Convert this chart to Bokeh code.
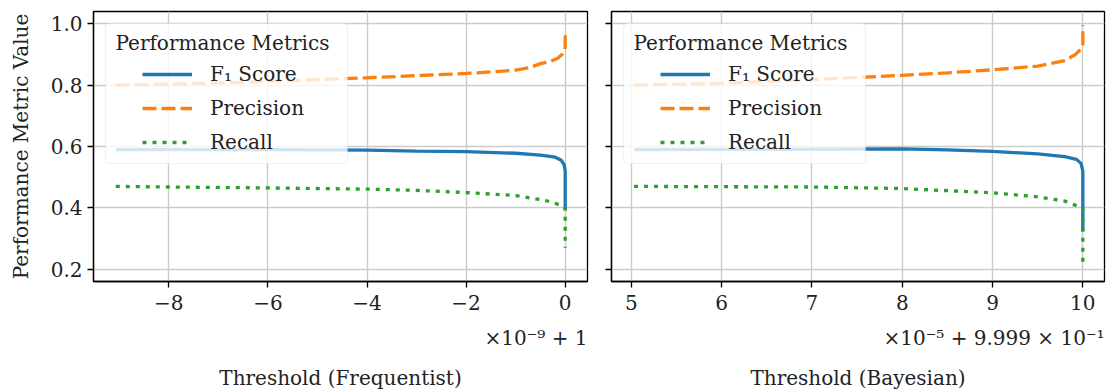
from bokeh.plotting import figure
from bokeh.layouts import row
from bokeh.models import (Range1d, FixedTicker, Title, Legend, LegendItem,
                          BoxAnnotation, Label, CustomLabelingPolicy)
from bokeh.embed import file_html
from bokeh.resources import INLINE

FONT = "DejaVu Serif"
FS = "20px"
TXT = "#222222"
C_F1, C_P, C_R = "#1f77b4", "#ff7f0e", "#2ca02c"

# ---------------- data ----------------
# Frequentist: threshold offsets in units of 1e-9 relative to 1
freq_p_x = [-9.07, -8, -7, -6, -5, -4, -3, -2, -1.5, -1, -0.7, -0.5, -0.3, -0.15, -0.05, -0.01, 0, 0]
freq_p_y = [0.800, 0.803, 0.807, 0.812, 0.818, 0.824, 0.831, 0.838, 0.843, 0.849, 0.858, 0.870, 0.877, 0.888, 0.902, 0.913, 0.925, 0.970]
freq_f_x = [-9.07, -6, -4, -3, -2, -1, -0.5, -0.2, -0.08, -0.02, 0, 0]
freq_f_y = [0.590, 0.590, 0.588, 0.585, 0.583, 0.578, 0.572, 0.565, 0.555, 0.540, 0.520, 0.394]
freq_r_x = [-9.07, -8, -6, -4, -3, -2, -1, -0.7, -0.4, -0.2, -0.05, 0, 0]
freq_r_y = [0.470, 0.468, 0.465, 0.461, 0.457, 0.450, 0.440, 0.432, 0.424, 0.415, 0.405, 0.398, 0.270]

# Bayesian: threshold offsets in units of 1e-5 relative to 0.9999
bay_p_x = [5.03, 6, 7, 8, 8.5, 9, 9.5, 9.8, 9.92, 9.98, 10, 10]
bay_p_y = [0.800, 0.806, 0.818, 0.832, 0.840, 0.850, 0.862, 0.880, 0.900, 0.918, 0.930, 0.995]
bay_f_x = [5.03, 7, 8, 8.5, 9, 9.5, 9.8, 9.93, 9.98, 10, 10]
bay_f_y = [0.590, 0.591, 0.592, 0.589, 0.584, 0.576, 0.567, 0.558, 0.545, 0.520, 0.325]
bay_r_x = [5.03, 6, 7, 8, 8.5, 9, 9.5, 9.8, 9.95, 10, 10]
bay_r_y = [0.470, 0.469, 0.468, 0.463, 0.456, 0.449, 0.436, 0.422, 0.405, 0.398, 0.205]

y_ticks = [0.2, 0.4, 0.6, 0.8, 1.0]
y_tick_labels = ["0.2", "0.4", "0.6", "0.8", "1.0"]
freq_ticks = [-8, -6, -4, -2, 0]
freq_tick_labels = ["\u22128", "\u22126", "\u22124", "\u22122", "0"]
bay_ticks = [5, 6, 7, 8, 9, 10]
bay_tick_labels = ["5", "6", "7", "8", "9", "10"]

series_labels = ["F\u2081 Score", "Precision", "Recall"]
legend_title = "Performance Metrics"
y_label = "Performance Metric Value"
freq_xlabel = "Threshold (Frequentist)"
bay_xlabel = "Threshold (Bayesian)"
freq_offset = "\u00d710\u207b\u2079 + 1"
bay_offset = "\u00d710\u207b\u2075 + 9.999 \u00d7 10\u207b\u00b9"

yr = Range1d(0.16, 1.04)
FRAME_H = 271


def panel(width, xr, ticks, tick_labels, px, py, fx, fy, rx, ry, xlabel, offset, left, border_left, border_right):
    p = figure(width=width, height=392, x_range=xr, y_range=yr,
               output_backend="svg", toolbar_location=None,
               min_border_left=border_left, min_border_right=border_right,
               min_border_top=11, min_border_bottom=20)
    p.background_fill_color = "white"
    p.border_fill_color = "white"
    p.outline_line_color = "black"
    p.outline_line_width = 1.3
    p.outline_line_alpha = 1.0

    p.grid.grid_line_color = "#cccccc"
    p.grid.grid_line_width = 1.4
    p.xaxis.ticker = FixedTicker(ticks=ticks)
    p.xaxis.major_label_overrides = {t: l for t, l in zip(ticks, tick_labels)}
    p.yaxis.ticker = FixedTicker(ticks=y_ticks)
    for ax in (p.xaxis[0], p.yaxis[0]):
        ax.axis_line_color = "black"
        ax.axis_line_width = 1.3
        ax.major_tick_line_color = "black"
        ax.major_tick_line_width = 1.3
        ax.major_tick_out = 6
        ax.major_tick_in = 0
        ax.minor_tick_out = 0
        ax.minor_tick_in = 0
        ax.major_label_text_font = FONT
        ax.major_label_text_font_size = FS
        ax.major_label_text_color = TXT
        ax.axis_label_text_font = FONT
        ax.axis_label_text_font_size = FS
        ax.axis_label_text_font_style = "normal"
        ax.axis_label_text_color = TXT
    p.xaxis.major_label_standoff = 7
    if left:
        p.yaxis.axis_label = y_label
        p.yaxis.major_label_standoff = 5
        p.yaxis.axis_label_standoff = 15
        p.yaxis.major_label_overrides = {t: l for t, l in zip(y_ticks, y_tick_labels)}
    else:
        p.yaxis.major_label_text_font_size = "0px"
        p.yaxis.major_label_standoff = 0
        p.yaxis.major_label_policy = CustomLabelingPolicy(
            code="const r = indices.clone(); for (let i = 0; i < r.size; i++) { r.set(i, false) } return r")

    rf = p.line(fx, fy, line_color=C_F1, line_width=3.3)
    rp = p.line(px, py, line_color=C_P, line_width=3.3, line_dash="14 5")
    rr = p.line(rx, ry, line_color=C_R, line_width=3.3, line_dash="4 6")

    # legend frame (semi-transparent, like matplotlib's framealpha=0.8)
    box = BoxAnnotation(left=12, right=254, top=FRAME_H - 13, bottom=FRAME_H - 153,
                        left_units="screen", right_units="screen",
                        top_units="screen", bottom_units="screen",
                        fill_color="white", fill_alpha=0.8,
                        line_color="#cfcfcf", line_width=1.2, border_radius=4)
    p.add_layout(box)
    ttl = Label(x=22, y=FRAME_H - 32, x_units="screen", y_units="screen",
                text=legend_title, text_baseline="middle", text_align="left",
                text_font=FONT, text_font_size=FS, text_color=TXT)
    p.add_layout(ttl)

    lg = Legend(items=[LegendItem(label=series_labels[0], renderers=[rf]),
                       LegendItem(label=series_labels[1], renderers=[rp]),
                       LegendItem(label=series_labels[2], renderers=[rr])],
                location="top_left", margin=12, padding=37,
                glyph_width=50, glyph_height=28, spacing=6, label_standoff=18,
                label_text_font=FONT, label_text_font_size=FS, label_text_color=TXT,
                background_fill_alpha=0.0, border_line_alpha=0.0)
    p.add_layout(lg)

    t1 = Title(text=offset, align="right", text_font=FONT, text_font_size=FS,
               text_font_style="normal", text_color=TXT, standoff=23)
    t2 = Title(text=xlabel, align="center", text_font=FONT, text_font_size=FS,
               text_font_style="normal", text_color=TXT, standoff=5)
    p.add_layout(t1, "below")
    p.add_layout(t2, "below")
    return p


p1 = panel(600, Range1d(-9.52, 0.45), freq_ticks, freq_tick_labels,
           freq_p_x, freq_p_y, freq_f_x, freq_f_y, freq_r_x, freq_r_y,
           freq_xlabel, freq_offset, True, 93, 13)
p2 = panel(516, Range1d(4.78, 10.24), bay_ticks, bay_tick_labels,
           bay_p_x, bay_p_y, bay_f_x, bay_f_y, bay_r_x, bay_r_y,
           bay_xlabel, bay_offset, False, 11, 12)

layout = row(p1, p2)
open("out.html", "w").write(file_html(layout, INLINE))
